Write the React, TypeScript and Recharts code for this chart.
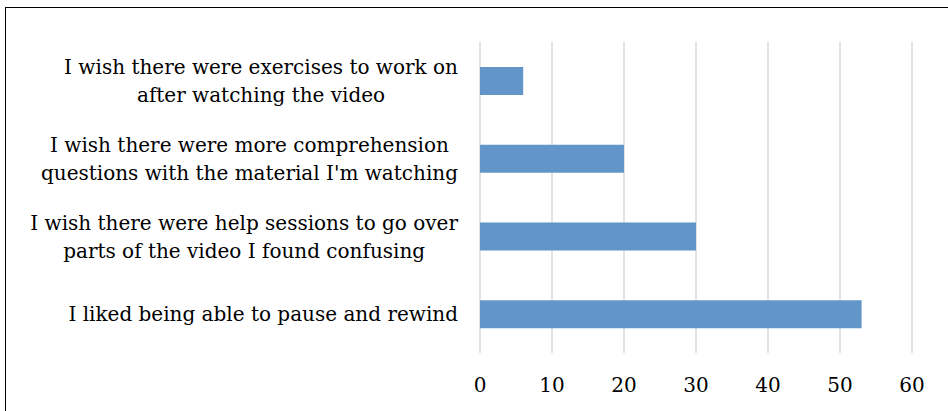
import React from "react";
import { BarChart, Bar, XAxis, YAxis, CartesianGrid } from "recharts";

// Survey feedback responses, listed top to bottom
const categories: string[][] = [
  ["I wish there were exercises to work on", "after watching the video"],
  ["I wish there were more comprehension", "questions with the material I'm watching"],
  ["I wish there were help sessions to go over", "parts of the video I found confusing"],
  ["I liked being able to pause and rewind"],
];
const counts: number[] = [6, 20, 30, 53];
const xTicks: number[] = [0, 10, 20, 30, 40, 50, 60];

const data = categories.map((lines, i) => ({
  name: lines.join(" "),
  lines,
  value: counts[i],
}));

const FONT_FAMILY = "'DejaVu Serif', serif";
const FONT_SIZE = 20;
const LINE_HEIGHT = 28;

let measureCtx: CanvasRenderingContext2D | null = null;
function textWidth(s: string): number {
  if (!measureCtx) {
    const c = document.createElement("canvas");
    measureCtx = c.getContext("2d");
  }
  if (!measureCtx) return s.length * FONT_SIZE * 0.52;
  measureCtx.font = `${FONT_SIZE}px ${FONT_FAMILY}`;
  return measureCtx.measureText(s).width;
}

// Wrapped category label: lines centred on each other, block right-aligned to the axis
const CategoryTick = (props: any) => {
  const { x, y, payload } = props;
  const row = data.find((d) => d.name === payload.value);
  const lines = row ? row.lines : [String(payload.value)];
  const maxW = Math.max(...lines.map(textWidth));
  const cx = x - maxW / 2;
  const startY = y - ((lines.length - 1) * LINE_HEIGHT) / 2;
  return (
    <g>
      {lines.map((ln, i) => (
        <text
          key={i}
          x={cx}
          y={startY + i * LINE_HEIGHT}
          dy="0.36em"
          textAnchor="middle"
          fill="#000"
          fontSize={FONT_SIZE}
          fontFamily={FONT_FAMILY}
        >
          {ln}
        </text>
      ))}
    </g>
  );
};

export default function App() {
  return (
    <div
      style={{
        position: "absolute",
        left: 0,
        top: 0,
        width: 948,
        height: 411,
        overflow: "hidden",
        background: "#fff",
      }}
    >
      <div
        style={{
          position: "absolute",
          left: 5,
          top: 7,
          width: 1000,
          height: 500,
          border: "1.5px solid #000",
          boxSizing: "border-box",
        }}
      />
      <div style={{ position: "absolute", left: 0, top: 0 }}>
        <BarChart
          width={948}
          height={411}
          data={data}
          layout="vertical"
          margin={{ top: 42, right: 36, bottom: 28, left: 0 }}
          barCategoryGap="0%"
        >
          <CartesianGrid
            horizontal={false}
            vertical={true}
            stroke="#d9d9d9"
            strokeWidth={1.4}
          />
          <XAxis
            type="number"
            domain={[0, 60]}
            ticks={xTicks}
            interval={0}
            axisLine={false}
            tickLine={false}
            tickMargin={19}
            height={30}
            tick={{ fill: "#000", fontSize: FONT_SIZE, fontFamily: FONT_FAMILY }}
          />
          <YAxis
            type="category"
            dataKey="name"
            width={480}
            axisLine={false}
            tickLine={false}
            tickMargin={16}
            interval={0}
            tick={<CategoryTick />}
          />
          <Bar dataKey="value" fill="#6296c9" barSize={28} isAnimationActive={false} />
        </BarChart>
      </div>
    </div>
  );
}
